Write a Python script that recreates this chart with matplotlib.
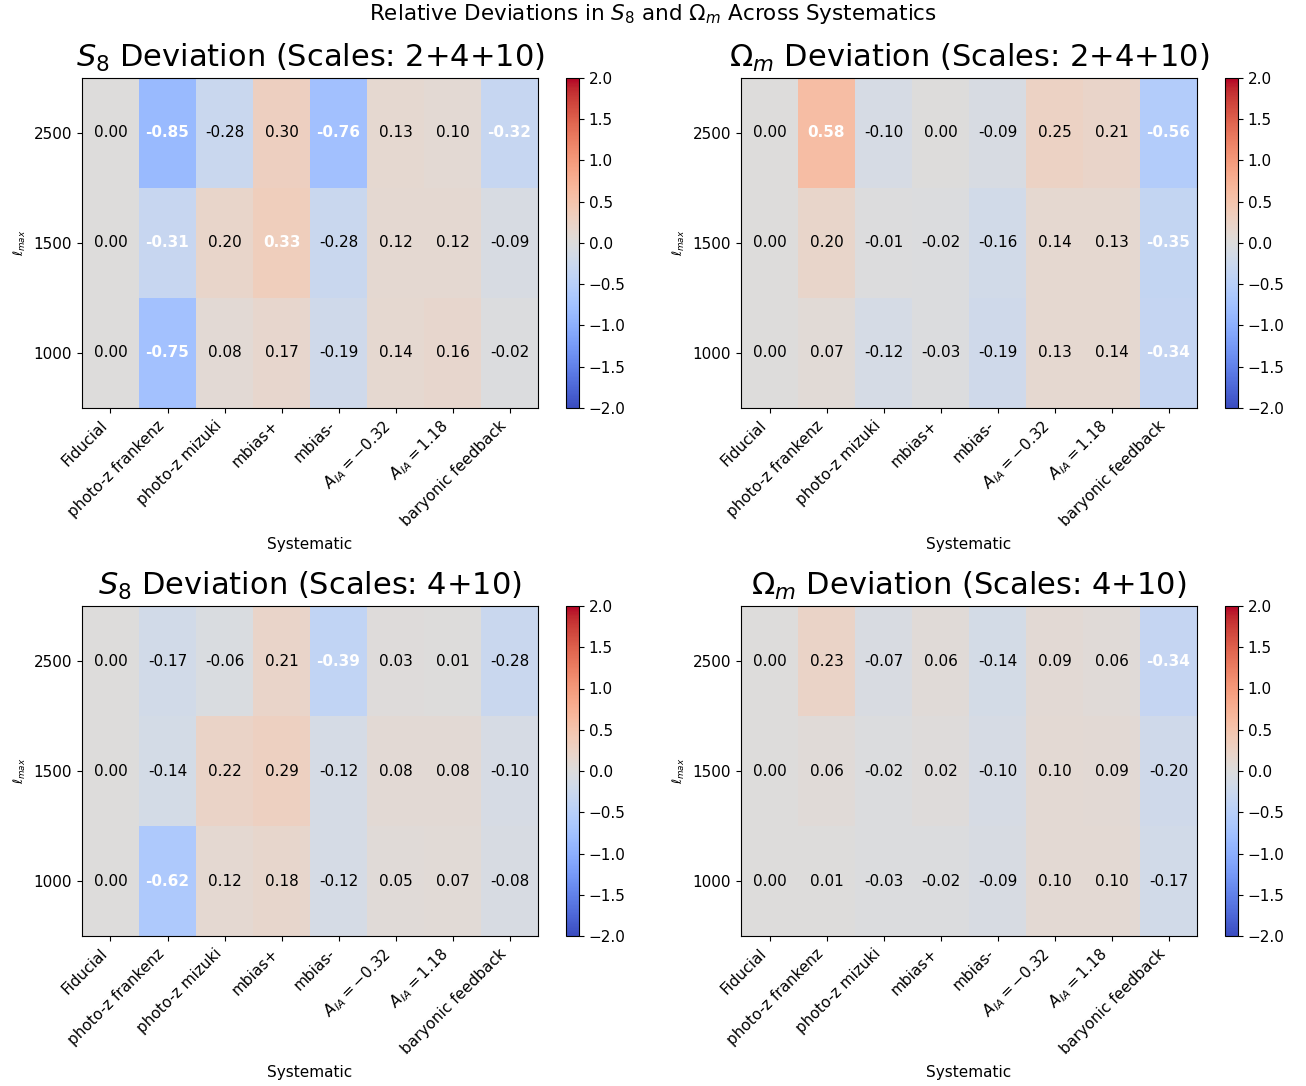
import numpy as np
import matplotlib
matplotlib.use("Agg")
import matplotlib.pyplot as plt

# categories
systematics = ["Fiducial", "photo-z frankenz", "photo-z mizuki", "mbias+", "mbias-",
               r"$A_{IA}=-0.32$", r"$A_{IA}=1.18$", "baryonic feedback"]
ell_max = [2500, 1500, 1000]  # rows top -> bottom

# relative deviations, rows follow ell_max
s8_2_4_10 = [[0.00, -0.85, -0.28, 0.30, -0.76, 0.13, 0.10, -0.32],
             [0.00, -0.31, 0.20, 0.33, -0.28, 0.12, 0.12, -0.09],
             [0.00, -0.75, 0.08, 0.17, -0.19, 0.14, 0.16, -0.02]]
om_2_4_10 = [[0.00, 0.58, -0.10, 0.00, -0.09, 0.25, 0.21, -0.56],
             [0.00, 0.20, -0.01, -0.02, -0.16, 0.14, 0.13, -0.35],
             [0.00, 0.07, -0.12, -0.03, -0.19, 0.13, 0.14, -0.34]]
s8_4_10 = [[0.00, -0.17, -0.06, 0.21, -0.39, 0.03, 0.01, -0.28],
           [0.00, -0.14, 0.22, 0.29, -0.12, 0.08, 0.08, -0.10],
           [0.00, -0.62, 0.12, 0.18, -0.12, 0.05, 0.07, -0.08]]
om_4_10 = [[0.00, 0.23, -0.07, 0.06, -0.14, 0.09, 0.06, -0.34],
           [0.00, 0.06, -0.02, 0.02, -0.10, 0.10, 0.09, -0.20],
           [0.00, 0.01, -0.03, -0.02, -0.09, 0.10, 0.10, -0.17]]

panels = [
    (s8_2_4_10, r"$S_8$ Deviation (Scales: 2+4+10)"),
    (om_2_4_10, r"$\Omega_m$ Deviation (Scales: 2+4+10)"),
    (s8_4_10, r"$S_8$ Deviation (Scales: 4+10)"),
    (om_4_10, r"$\Omega_m$ Deviation (Scales: 4+10)"),
]

W, H = 1306, 1086
fig = plt.figure(figsize=(W / 100, H / 100), dpi=100)

# axes boxes in pixels: left, top, right, bottom
boxes = [(82, 78, 538, 408), (741, 78, 1197, 408),
         (82, 606, 538, 936), (741, 606, 1197, 936)]

for (data, title), (l, t, r, b) in zip(panels, boxes):
    ax = fig.add_axes([l / W, 1 - b / H, (r - l) / W, (b - t) / H])
    cax = fig.add_axes([(r + 28) / W, 1 - b / H, 13 / W, (b - t) / H])
    vals = np.array(data)
    im = ax.imshow(vals, cmap="coolwarm", vmin=-2, vmax=2, aspect="auto")
    # write each value in its cell, bold white for the larger shifts
    for i in range(vals.shape[0]):
        for j in range(vals.shape[1]):
            v = vals[i, j]
            big = abs(v) > 0.3
            ax.text(j, i, f"{v:.2f}", ha="center", va="center", fontsize=11,
                    color="white" if big else "black",
                    fontweight="bold" if big else "normal")
    ax.set_xticks(range(len(systematics)))
    ax.set_xticklabels(systematics, rotation=45, ha="right", fontsize=11)
    ax.set_yticks(range(len(ell_max)))
    ax.set_yticklabels([str(e) for e in ell_max], fontsize=11)
    ax.set_xlabel("Systematic", fontsize=11, labelpad=6)
    ax.set_ylabel(r"$\ell_{max}$", fontsize=9)
    ax.set_title(title, fontsize=22, pad=8)
    cb = fig.colorbar(im, cax=cax)
    cb.set_ticks(np.arange(-2, 2.01, 0.5))
    cb.ax.tick_params(labelsize=11)

fig.suptitle(r"Relative Deviations in $S_8$ and $\Omega_m$ Across Systematics",
             fontsize=15.5, y=0.998)

plt.savefig("out.png", dpi=100)
